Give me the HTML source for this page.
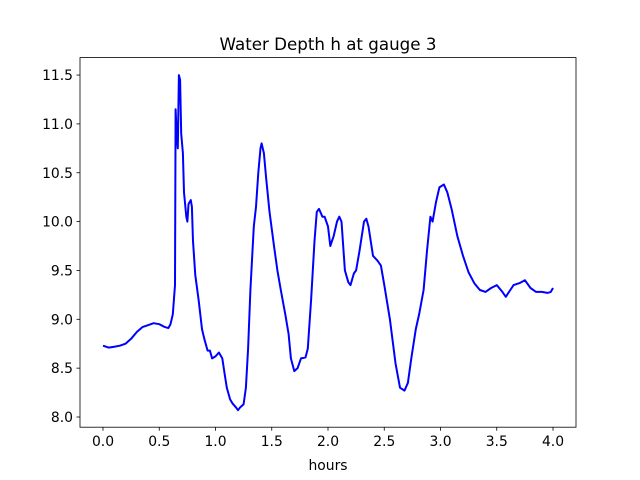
<!DOCTYPE html>
<html><head><meta charset="utf-8"><style>
html,body{margin:0;padding:0;background:#fff;}
svg{display:block;font-family:"DejaVu Sans","Liberation Sans",sans-serif;}
</style></head><body>
<svg id="chart" width="640" height="480" viewBox="0 0 640 480">
<rect x="0" y="0" width="640" height="480" fill="#fff"/>
<text x="328" y="50" font-size="16.7" text-anchor="middle">Water Depth h at gauge 3</text>
<g id="xticks"></g>
<g id="yticks"></g>
<path id="line" fill="none" stroke="#0000ff" stroke-width="2" stroke-linejoin="round"/>
<rect x="80" y="57.6" width="496" height="369.6" fill="none" stroke="#000" stroke-width="0.8"/>
<text x="328" y="470" font-size="13.9" text-anchor="middle">hours</text>
</svg>
<script>
const xTickLabels = ["0.0","0.5","1.0","1.5","2.0","2.5","3.0","3.5","4.0"];
const xTickValues = [0,0.5,1,1.5,2,2.5,3,3.5,4];
const yTickLabels = ["8.0","8.5","9.0","9.5","10.0","10.5","11.0","11.5"];
const yTickValues = [8,8.5,9,9.5,10,10.5,11,11.5];
const hours = [0,0.05,0.1,0.15,0.2,0.25,0.3,0.35,0.4,0.45,0.5,0.55,0.58,0.6,0.62,0.64,0.645,0.655,0.665,0.675,0.685,0.695,0.71,0.72,0.74,0.75,0.76,0.78,0.79,0.8,0.82,0.85,0.88,0.9,0.93,0.95,0.97,1.0,1.03,1.06,1.08,1.1,1.13,1.15,1.18,1.2,1.22,1.25,1.27,1.29,1.31,1.34,1.36,1.38,1.4,1.41,1.43,1.45,1.48,1.52,1.55,1.58,1.62,1.65,1.67,1.7,1.73,1.76,1.8,1.82,1.85,1.88,1.9,1.92,1.95,1.97,2.0,2.02,2.05,2.08,2.1,2.12,2.15,2.18,2.2,2.23,2.25,2.28,2.32,2.34,2.36,2.4,2.44,2.47,2.5,2.55,2.6,2.64,2.68,2.71,2.74,2.78,2.81,2.85,2.88,2.91,2.93,2.96,2.99,3.03,3.06,3.1,3.15,3.2,3.25,3.3,3.35,3.4,3.45,3.5,3.55,3.58,3.62,3.65,3.7,3.75,3.8,3.85,3.9,3.95,3.98,4.0];
const depth = [8.73,8.71,8.72,8.73,8.75,8.8,8.87,8.92,8.94,8.96,8.95,8.92,8.91,8.95,9.05,9.35,11.15,10.9,10.75,11.5,11.45,10.9,10.7,10.3,10.05,10.0,10.18,10.22,10.15,9.8,9.45,9.2,8.9,8.8,8.68,8.68,8.6,8.62,8.66,8.6,8.45,8.3,8.18,8.14,8.1,8.07,8.1,8.13,8.3,8.7,9.3,9.95,10.15,10.5,10.75,10.8,10.7,10.45,10.1,9.75,9.5,9.3,9.05,8.85,8.6,8.47,8.5,8.6,8.61,8.7,9.2,9.8,10.1,10.13,10.05,10.05,9.95,9.75,9.85,10.0,10.05,10.0,9.5,9.38,9.35,9.47,9.5,9.7,10.0,10.03,9.95,9.65,9.6,9.55,9.35,9.0,8.55,8.3,8.27,8.35,8.6,8.9,9.05,9.3,9.7,10.05,10.0,10.2,10.35,10.38,10.3,10.12,9.85,9.65,9.48,9.37,9.3,9.28,9.32,9.35,9.28,9.23,9.3,9.35,9.37,9.4,9.32,9.28,9.28,9.27,9.28,9.32];
const NS="http://www.w3.org/2000/svg";
function xs(t){return 103+t*112.5;}
function ys(v){return 417-(v-8)*97.7;}
const xg=document.getElementById('xticks'), yg=document.getElementById('yticks');
xTickValues.forEach((v,i)=>{
  const l=document.createElementNS(NS,'line');
  
  
  l.setAttribute('x1',xs(v));l.setAttribute('x2',xs(v));l.setAttribute('y1',427.2);l.setAttribute('y2',430.7);l.setAttribute('stroke','#000');l.setAttribute('stroke-width','0.8');
  xg.appendChild(l);
  const t=document.createElementNS(NS,'text');
  
  
  t.setAttribute('x',xs(v));t.setAttribute('y',446);t.setAttribute('font-size','13.9');t.setAttribute('text-anchor','middle');
  t.textContent=xTickLabels[i];xg.appendChild(t);
});
yTickValues.forEach((v,i)=>{
  const l=document.createElementNS(NS,'line');
  
  
  l.setAttribute('x1',76.5);l.setAttribute('x2',80);l.setAttribute('y1',ys(v));l.setAttribute('y2',ys(v));l.setAttribute('stroke','#000');l.setAttribute('stroke-width','0.8');
  yg.appendChild(l);
  const t=document.createElementNS(NS,'text');
  
  
  t.setAttribute('x',73);t.setAttribute('y',ys(v)+5);t.setAttribute('font-size','13.9');t.setAttribute('text-anchor','end');
  t.textContent=yTickLabels[i];yg.appendChild(t);
});
document.getElementById('line').setAttribute('d',hours.map((t,i)=>(i?'L':'M')+xs(t).toFixed(1)+','+ys(depth[i]).toFixed(1)).join(''));
</script>
</body></html>
